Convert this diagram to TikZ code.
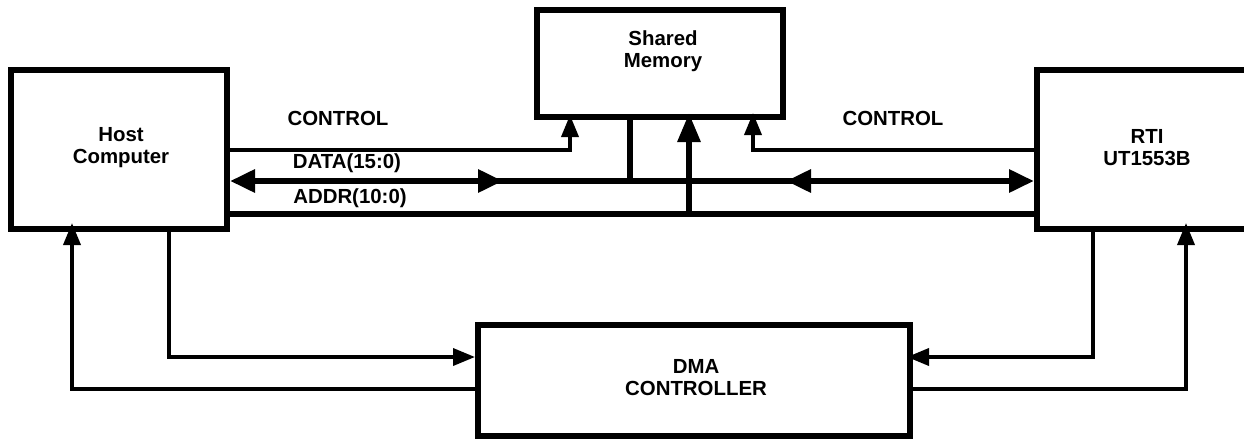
\documentclass[tikz,border=0pt]{standalone}
\usepackage{fontspec}
\setmainfont{Liberation Sans}
\usetikzlibrary{arrows.meta}
\tikzset{
  block/.style={draw=black,line width=6pt,fill=white,inner sep=0pt},
  blocktext/.style={align=center,font=\bfseries\fontsize{20.4}{22}\selectfont,inner sep=0pt},
  siglabel/.style={font=\bfseries\fontsize{20.4}{22}\selectfont,inner sep=0pt},
  thinline/.style={line width=3.6pt,line cap=butt,line join=miter},
  busline/.style={line width=6pt,line cap=butt,line join=miter},
  smallhead/.style={-{Triangle[length=22pt,width=17pt]}},
  bighead/.style={-{Triangle[length=29pt,width=22pt]}},
  busboth/.style={{Triangle[length=25pt,width=22pt]}-{Triangle[length=25pt,width=22pt]}}
}
\begin{document}
\begin{tikzpicture}[x=1pt,y=-1pt]
\path[use as bounding box] (0,0) rectangle (1244,439);
\clip (0,0) rectangle (1244,439);
% blocks
\node[block,minimum width=216pt,minimum height=159pt] (host) at (119,149.5) {};
\node[block,minimum width=246pt,minimum height=107pt] (mem) at (660,63.5) {};
\node[block,minimum width=220pt,minimum height=159pt] (rti) at (1147,149.5) {};
\node[block,minimum width=432pt,minimum height=111pt] (dma) at (694,380.5) {};
% texts
\node[blocktext] (hostT) at (121,147.5) {Host\\Computer};
\node[blocktext] (memT) at (663,51.5) {Shared\\Memory};
\node[blocktext] (rtiT) at (1147,147.5) {RTI\\UT1553B};
\node[blocktext] (dmaT) at (696,378) {DMA\\CONTROLLER};
\node[siglabel] (ctlL) at (338,118) {CONTROL};
\node[siglabel] (ctlR) at (893,118) {CONTROL};
\node[siglabel] (dataL) at (347,163.5) {DATA(15:0)};
\node[siglabel] (addrL) at (350,198.5) {ADDR(10:0)};
% routing points
\coordinate (ctlA) at (570,150);
\coordinate (ctlAtip) at (570,115);
\coordinate (ctlB) at (753,150);
\coordinate (ctlBtip) at (753,113);
\coordinate (bus1) at (503,181);
\coordinate (bus2) at (786,181);
\coordinate (stubA) at (630,181);
\coordinate (addrJ) at (689,214);
\coordinate (addrTip) at (689,113);
\coordinate (hd) at (169,357);
\coordinate (dh) at (72,389);
\coordinate (dhTip) at (72,223);
\coordinate (rd) at (1093,357);
\coordinate (rdTip) at (907,357);
\coordinate (dr) at (1186,389);
\coordinate (drTip) at (1186,223);
% control
\draw[thinline,smallhead] (ctlA -| host.east) -- (ctlA) -- (ctlAtip);
\draw[thinline,smallhead] (ctlB -| rti.west) -- (ctlB) -- (ctlBtip);
% data bus
\draw[busline] ([xshift=-15pt]bus1) -- ([xshift=15pt]bus2);
\draw[busline,busboth] (bus1 -| host.east) -- (bus1);
\draw[busline,busboth] (bus2) -- (bus1 -| rti.west);
\draw[line width=5.5pt] (mem.south -| stubA) -- ([yshift=3pt]stubA);
% address bus
\draw[busline] (addrJ -| host.east) -- (addrJ -| rti.west);
\draw[busline,bighead] ([yshift=3pt]addrJ) -- (addrTip);
% DMA links
\draw[thinline,smallhead] (hd |- host.south) -- (hd) -- (hd -| dma.west);
\draw[thinline,smallhead] (dh -| dma.west) -- (dh) -- (dhTip);
\draw[thinline,smallhead] (rd |- rti.south) -- (rd) -- (rdTip);
\draw[thinline,smallhead] (dr -| dma.east) -- (dr) -- (drTip);
\end{tikzpicture}
\end{document}
